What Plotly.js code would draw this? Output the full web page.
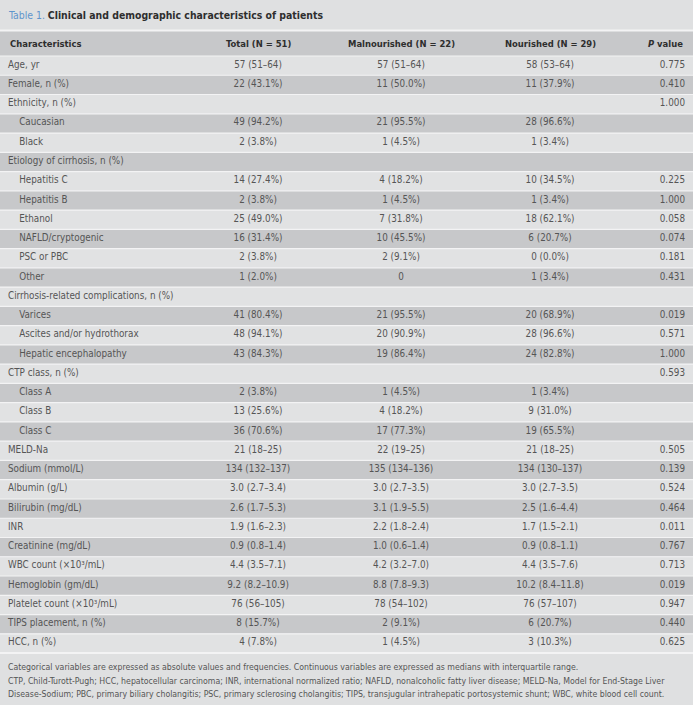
<!DOCTYPE html>
<html>
<head>
<meta charset="utf-8">
<script src="https://cdn.plot.ly/plotly-3.0.1.min.js"></script>
<style>html,body{margin:0;padding:0;background:#e0e1e2;}</style>
</head>
<body>
<div id="chart" style="width:693px;height:705px;"></div>
<script>
const headers = ["Characteristics", "Total (N = 51)", "Malnourished (N = 22)", "Nourished (N = 29)", "<i>P</i> value"];
const characteristics = ["Age, yr", "Female, n (%)", "Ethnicity, n (%)", "Caucasian", "Black",
  "Etiology of cirrhosis, n (%)", "Hepatitis C", "Hepatitis B", "Ethanol", "NAFLD/cryptogenic", "PSC or PBC", "Other",
  "Cirrhosis-related complications, n (%)", "Varices", "Ascites and/or hydrothorax", "Hepatic encephalopathy",
  "CTP class, n (%)", "Class A", "Class B", "Class C", "MELD-Na", "Sodium (mmol/L)", "Albumin (g/L)",
  "Bilirubin (mg/dL)", "INR", "Creatinine (mg/dL)", "WBC count (×10³/mL)", "Hemoglobin (gm/dL)",
  "Platelet count (×10³/mL)", "TIPS placement, n (%)", "HCC, n (%)"];
const level = [0,0,0,1,1, 0,1,1,1,1,1,1, 0,1,1,1, 0,1,1,1, 0,0,0,0,0,0,0,0,0,0,0];
const total = ["57 (51–64)", "22 (43.1%)", "", "49 (94.2%)", "2 (3.8%)",
  "", "14 (27.4%)", "2 (3.8%)", "25 (49.0%)", "16 (31.4%)", "2 (3.8%)", "1 (2.0%)",
  "", "41 (80.4%)", "48 (94.1%)", "43 (84.3%)",
  "", "2 (3.8%)", "13 (25.6%)", "36 (70.6%)", "21 (18–25)", "134 (132–137)", "3.0 (2.7–3.4)",
  "2.6 (1.7–5.3)", "1.9 (1.6–2.3)", "0.9 (0.8–1.4)", "4.4 (3.5–7.1)", "9.2 (8.2–10.9)",
  "76 (56–105)", "8 (15.7%)", "4 (7.8%)"];
const malnourished = ["57 (51–64)", "11 (50.0%)", "", "21 (95.5%)", "1 (4.5%)",
  "", "4 (18.2%)", "1 (4.5%)", "7 (31.8%)", "10 (45.5%)", "2 (9.1%)", "0",
  "", "21 (95.5%)", "20 (90.9%)", "19 (86.4%)",
  "", "1 (4.5%)", "4 (18.2%)", "17 (77.3%)", "22 (19–25)", "135 (134–136)", "3.0 (2.7–3.5)",
  "3.1 (1.9–5.5)", "2.2 (1.8–2.4)", "1.0 (0.6–1.4)", "4.2 (3.2–7.0)", "8.8 (7.8–9.3)",
  "78 (54–102)", "2 (9.1%)", "1 (4.5%)"];
const nourished = ["58 (53–64)", "11 (37.9%)", "", "28 (96.6%)", "1 (3.4%)",
  "", "10 (34.5%)", "1 (3.4%)", "18 (62.1%)", "6 (20.7%)", "0 (0.0%)", "1 (3.4%)",
  "", "20 (68.9%)", "28 (96.6%)", "24 (82.8%)",
  "", "1 (3.4%)", "9 (31.0%)", "19 (65.5%)", "21 (18–25)", "134 (130–137)", "3.0 (2.7–3.5)",
  "2.5 (1.6–4.4)", "1.7 (1.5–2.1)", "0.9 (0.8–1.1)", "4.4 (3.5–7.6)", "10.2 (8.4–11.8)",
  "76 (57–107)", "6 (20.7%)", "3 (10.3%)"];
const pValue = ["0.775", "0.410", "1.000", "", "",
  "", "0.225", "1.000", "0.058", "0.074", "0.181", "0.431",
  "", "0.019", "0.571", "1.000",
  "0.593", "", "", "", "0.505", "0.139", "0.524",
  "0.464", "0.011", "0.767", "0.713", "0.019",
  "0.947", "0.440", "0.625"];
const titleNum = "Table 1.";
const titleText = "Clinical and demographic characteristics of patients";
const footnotes = [
  "Categorical variables are expressed as absolute values and frequencies. Continuous variables are expressed as medians with interquartile range.",
  "CTP, Child-Turott-Pugh; HCC, hepatocellular carcinoma; INR, international normalized ratio; NAFLD, nonalcoholic fatty liver disease; MELD-Na, Model for End-Stage Liver",
  "Disease-Sodium; PBC, primary biliary cholangitis; PSC, primary sclerosing cholangitis; TIPS, transjugular intrahepatic portosystemic shunt; WBC, white blood cell count."
];

const W = 693, H = 705;
const FONT = "Liberation Sans Narrow, DejaVu Sans Condensed, Arial Narrow, sans-serif";
const LIGHT = "#e1e2e3", DARK = "#c7c8ca", BG = "#dfe0e1", SEP = "#f3f3f4";
// band geometry (pixels)
const headTop = 31, headBot = 56, rowH = 19.26;
// Plotly table draws body text ~13.3px below each cell top; the header slot is 25px tall
const TXT_OFF = 13.3, HEAD_SLOT = 25;
const tableTop = headBot + rowH / 2 - TXT_OFF - HEAD_SLOT;

const nb = s => s.replace(/ /g, "\u00a0");
const labels = characteristics.map((c, i) => (level[i] ? "\u00a0\u00a0\u00a0\u00a0" : "") + nb(c));
const CLEAR = "rgba(0,0,0,0)";
const COLW = [186, 144, 142, 156, 65];
const ALIGN = ["left", "center", "center", "center", "right"];
const PAD = 8;

const trace = {
  type: "table",
  domain: {x: [0, 1], y: [0, 1 - tableTop / H]},
  columnwidth: COLW,
  header: {
    // header slot kept in the table; its labels are drawn as annotations below
    values: headers.map(() => "\u00a0"), align: ALIGN, height: HEAD_SLOT,
    fill: {color: CLEAR}, line: {width: 0, color: CLEAR},
    font: {family: FONT, size: 9.4, color: CLEAR, weight: "bold"}
  },
  cells: {
    values: [labels, total.map(nb), malnourished.map(nb), nourished.map(nb), pValue],
    align: ALIGN, height: rowH,
    fill: {color: CLEAR}, line: {width: 0, color: CLEAR},
    font: {family: FONT, size: 9.8, color: "#555555"}
  }
};

// row bands and white separators, computed from the row index
const shapes = [];
const py2p = py => 1 - py / H;
shapes.push({type: "rect", xref: "paper", yref: "paper", layer: "below", x0: 0, x1: 1,
  y0: py2p(headBot), y1: py2p(headTop), fillcolor: DARK, line: {width: 0}});
characteristics.forEach((_, i) => {
  const t = headBot + i * rowH, b = t + rowH;
  shapes.push({type: "rect", xref: "paper", yref: "paper", layer: "below", x0: 0, x1: 1,
    y0: py2p(b), y1: py2p(t), fillcolor: i % 2 === 0 ? LIGHT : DARK, line: {width: 0}});
});
const sepY = [headTop - 0.5];
for (let i = 0; i <= characteristics.length; i++) sepY.push(headBot + i * rowH);
sepY.forEach((py, k) => shapes.push({
  type: "line", xref: "paper", yref: "paper", layer: "below", x0: 0, x1: 1,
  y0: py2p(py), y1: py2p(py), line: {color: SEP, width: (k === 0 || k === sepY.length - 1) ? 2 : 1.2}
}));

const annotations = [{
  xref: "paper", yref: "paper", x: 6 / W, y: 1 - 15 / H, xanchor: "left", yanchor: "middle",
  showarrow: false, align: "left",
  text: '<span style="color:#5f95cc">' + titleNum + '</span> <b>' + titleText + '</b>',
  font: {family: FONT, size: 10.4, color: "#2e2e2e"}
}];
// column header labels, placed from the column widths
const colSum = COLW.reduce((a, b) => a + b, 0);
let acc = 0;
headers.forEach((h, j) => {
  const left = acc / colSum * W, right = (acc + COLW[j]) / colSum * W;
  acc += COLW[j];
  const a = ALIGN[j];
  const px = a === "left" ? left + PAD : a === "right" ? right - PAD : (left + right) / 2;
  annotations.push({
    xref: "paper", yref: "paper", x: px / W, y: 1 - (headTop + headBot) / 2 / H,
    xanchor: a, yanchor: "middle", showarrow: false, text: "<b>" + nb(h) + "</b>",
    font: {family: FONT, size: 9.4, color: "#2e2e2e"}
  });
});
footnotes.forEach((t, i) => annotations.push({
  xref: "paper", yref: "paper", x: 6 / W, y: 1 - (667 + i * 13.5) / H, xanchor: "left", yanchor: "middle",
  showarrow: false, align: "left", text: t,
  font: {family: FONT, size: 8.7, color: "#555555"}
}));

Plotly.newPlot("chart", [trace], {
  width: W, height: H,
  margin: {l: 0, r: 0, t: 0, b: 0},
  paper_bgcolor: BG,
  shapes: shapes,
  annotations: annotations
}, {displayModeBar: false, staticPlot: true});
</script>
</body>
</html>
